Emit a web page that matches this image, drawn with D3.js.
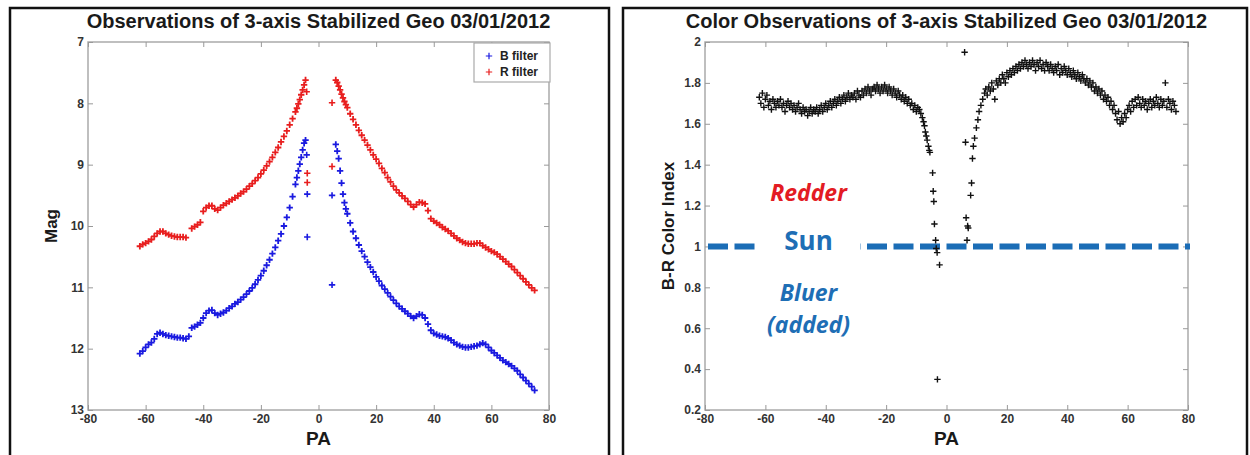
<!DOCTYPE html>
<html>
<head>
<meta charset="utf-8">
<script src="https://cdn.jsdelivr.net/npm/d3@7"></script>
<style>
body { margin: 0; background: #fff; }
svg { display: block; font-family: "Liberation Sans", Arial, sans-serif; }
</style>
</head>
<body>
<svg id="chart" width="1250" height="455"></svg>
<script>
// ---- data ----
var xTicks = [-80, -60, -40, -20, 0, 20, 40, 60, 80];
var magTicks = [7, 8, 9, 10, 11, 12, 13];
var colorTicks = [0.2, 0.4, 0.6, 0.8, 1, 1.2, 1.4, 1.6, 1.8, 2];
var titleLeft = "Observations of 3-axis Stabilized Geo 03/01/2012";
var titleRight = "Color Observations of 3-axis Stabilized Geo 03/01/2012";
var legendLabels = ["B filter", "R filter"];

// PA of the B / R magnitude measurements
var paMag = [-62,-61,-60,-59,-58,-57,-56,-55,-54,-53,
  -52,-51,-50,-49,-48,-47,-46,-45,-44,-43,
  -42,-41,-40,-39,-38,-37,-36,-35,-34,-33,
  -32,-31,-30,-29,-28,-27,-26,-25,-24,-23,
  -22,-21,-20,-19,-18,-17,-16,-15,-14,-13,
  -12,-11,-10,-9,-8,-7.5,-7,-6.5,-6,-5.5,-5,-4.5,
  6,6.5,7,7.5,8,8.5,9,9.5,10,11,12,13,14,15,
  16,17,18,19,20,21,22,23,24,25,
  26,27,28,29,30,31,32,33,34,35,
  36,37,38,39,40,41,42,43,44,45,
  46,47,48,49,50,51,52,53,54,55,
  56,57,58,59,60,61,62,63,64,65,
  66,67,68,69,70,71,72,73,74,75];
var magB = [12.08,12.04,11.98,11.93,11.90,11.84,11.76,11.74,11.76,11.78,
  11.79,11.80,11.81,11.82,11.82,11.83,11.84,11.80,11.66,11.64,
  11.61,11.58,11.50,11.42,11.38,11.37,11.42,11.45,11.43,11.41,
  11.38,11.34,11.31,11.27,11.24,11.20,11.16,11.11,11.06,11.01,
  10.95,10.88,10.81,10.73,10.64,10.55,10.45,10.35,10.24,10.13,
  10.00,9.86,9.70,9.52,9.32,9.21,9.10,8.99,8.88,8.76,8.65,8.60,
  8.67,8.78,8.90,9.10,9.30,9.48,9.62,9.72,9.80,9.95,10.09,10.20,10.31,10.41,
  10.50,10.59,10.67,10.75,10.83,10.90,10.97,11.03,11.09,11.15,
  11.21,11.26,11.31,11.35,11.39,11.43,11.47,11.50,11.47,11.44,
  11.45,11.50,11.60,11.70,11.75,11.77,11.79,11.80,11.81,11.83,
  11.86,11.90,11.93,11.95,11.97,11.98,11.98,11.97,11.96,11.95,
  11.93,11.91,11.93,11.98,12.03,12.07,12.11,12.15,12.19,12.22,
  12.25,12.28,12.32,12.36,12.42,12.47,12.52,12.57,12.62,12.68];
var magR = [10.33,10.30,10.28,10.25,10.22,10.17,10.12,10.09,10.09,10.12,
  10.14,10.16,10.17,10.18,10.18,10.18,10.19,null,10.04,10.01,
  9.98,9.94,9.76,9.70,9.67,9.67,9.72,9.74,9.70,9.66,
  9.63,9.60,9.57,9.54,9.51,9.47,9.44,9.40,9.35,9.31,
  9.26,9.21,9.15,9.09,9.02,8.95,8.88,8.80,8.72,8.63,
  8.54,8.45,8.35,8.25,8.14,8.08,8.01,7.94,7.86,7.78,7.70,7.62,
  7.62,7.66,7.72,7.78,7.85,7.91,7.97,8.02,8.07,8.17,8.26,8.35,8.44,8.52,
  8.60,8.68,8.76,8.84,8.91,8.98,9.06,9.13,9.21,9.28,
  9.35,9.41,9.46,9.51,9.55,9.60,9.65,9.69,9.65,9.61,
  9.62,9.64,9.75,9.88,9.92,9.95,9.98,10.02,10.05,10.08,
  10.12,10.16,10.20,10.23,10.26,10.28,10.29,10.29,10.29,10.28,
  10.28,10.32,10.35,10.38,10.41,10.43,10.46,10.50,10.54,10.58,
  10.62,10.66,10.71,10.76,10.81,10.86,10.91,10.96,11.01,11.05];

// stray points near PA 0
var paOutB = [-4.1, -3.9, -3.9, 4.7, 4.7];
var outB = [8.84, 9.48, 10.18, 9.50, 10.96];
var paOutR = [-4.1, -3.9, -3.9, 4.7, 4.7];
var outR = [7.81, 9.14, 9.29, 7.99, 9.03];

// B-R color index
var paColor = [-62,-61.5,-61,-60.5,-60,-59.5,-59,-58.5,-58,-57.5,
  -57,-56.5,-56,-55.5,-55,-54.5,-54,-53.5,-53,-52.5,
  -52,-51.5,-51,-50.5,-50,-49.5,-49,-48.5,-48,-47.5,
  -47,-46.5,-46,-45.5,-45,-44.5,-44,-43.5,-43,-42.5,
  -42,-41.5,-41,-40.5,-40,-39.5,-39,-38.5,-38,-37.5,
  -37,-36.5,-36,-35.5,-35,-34.5,-34,-33.5,-33,-32.5,
  -32,-31.5,-31,-30.5,-30,-29.5,-29,-28.5,-28,-27.5,
  -27,-26.5,-26,-25.5,-25,-24.5,-24,-23.5,-23,-22.5,
  -22,-21.5,-21,-20.5,-20,-19.5,-19,-18.5,-18,-17.5,
  -17,-16.5,-16,-15.5,-15,-14.5,-14,-13.5,-13,-12.5,
  -12,-11.5,-11,-10.5,-10,-9.5,
  -9,-8.5,-8,-7.6,-7.3,-7,-6.7,-6.4,-6,-5.7,
  -5.5,-4.6,-4.4,-4.2,-4,-3.6,-3.4,-3.1,-2.3,-3,
  6,6.3,6.5,7,7.2,6.8,8,8.3,8.6,8.9,
  9.3,9.9,10.4,10.8,11.4,12,12.6,
  13,13.5,14,14.5,15,15.5,16,16.5,17,17.5,
  18,18.5,19,19.5,20,20.5,21,21.5,22,22.5,
  23,23.5,24,24.5,25,25.5,26,26.5,27,27.5,
  28,28.5,29,29.5,30,30.5,31,31.5,32,32.5,
  33,33.5,34,34.5,35,35.5,36,36.5,37,37.5,
  38,38.5,39,39.5,40,40.5,41,41.5,42,42.5,
  43,43.5,44,44.5,45,45.5,46,46.5,47,47.5,
  48,48.5,49,49.5,50,50.5,51,51.5,52,52.5,
  53,53.5,54,54.5,55,55.5,56,56.5,57,57.5,
  58,58.5,59,59.5,60,60.5,61,61.5,62,62.5,
  63,63.5,64,64.5,65,65.5,66,66.5,67,67.5,
  68,68.5,69,69.5,70,70.5,71,71.5,72,72.5,
  73,73.5,74,74.5,75,75.5,76];
var colorIdx = [1.73,1.70,1.75,1.68,1.72,1.74,1.69,1.71,1.67,1.72,
  1.70,1.68,1.71,1.69,1.72,1.68,1.70,1.66,1.69,1.71,
  1.68,1.70,1.67,1.69,1.66,1.68,1.70,1.67,1.65,1.68,
  1.66,1.67,1.64,1.66,1.68,1.65,1.67,1.66,1.68,1.65,
  1.67,1.69,1.66,1.68,1.70,1.67,1.69,1.71,1.68,1.70,
  1.72,1.69,1.71,1.73,1.70,1.72,1.74,1.71,1.73,1.75,
  1.72,1.74,1.73,1.75,1.72,1.76,1.74,1.73,1.76,1.74,
  1.77,1.75,1.78,1.76,1.74,1.77,1.78,1.76,1.79,1.77,
  1.75,1.78,1.76,1.79,1.77,1.75,1.78,1.76,1.74,1.77,
  1.75,1.73,1.76,1.74,1.72,1.74,1.71,1.73,1.70,1.72,
  1.69,1.70,1.67,1.69,1.66,1.68,
  1.67,1.65,1.63,1.61,1.59,1.56,1.54,1.52,1.49,1.47,
  1.46,1.36,1.27,1.22,1.11,1.03,0.99,0.97,0.91,0.35,
  1.95,1.51,1.14,1.10,1.09,1.03,1.25,1.31,1.43,1.49,
  1.53,1.58,1.62,1.66,1.69,1.72,1.75,
  1.77,1.74,1.78,1.76,1.80,1.77,1.72,1.81,1.79,1.82,
  1.80,1.84,1.82,1.80,1.85,1.83,1.86,1.84,1.87,1.85,
  1.88,1.86,1.89,1.87,1.90,1.88,1.91,1.89,1.87,1.90,
  1.88,1.91,1.89,1.86,1.90,1.88,1.91,1.87,1.89,1.86,
  1.90,1.88,1.86,1.89,1.87,1.85,1.88,1.86,1.89,1.84,
  1.87,1.85,1.88,1.86,1.84,1.87,1.85,1.83,1.86,1.84,
  1.82,1.85,1.83,1.81,1.84,1.82,1.80,1.82,1.79,1.81,
  1.78,1.80,1.76,1.78,1.75,1.77,1.74,1.76,1.72,1.74,
  1.71,1.73,1.69,1.71,1.67,1.69,1.65,1.62,1.66,1.60,
  1.63,1.61,1.65,1.63,1.67,1.69,1.66,1.71,1.68,1.72,
  1.69,1.73,1.70,1.68,1.72,1.69,1.71,1.67,1.70,1.72,
  1.68,1.71,1.69,1.73,1.70,1.68,1.72,1.69,1.71,1.80,
  1.68,1.72,1.70,1.67,1.71,1.69,1.66];

// annotation texts (PA, color index)
var notes = [
  {text: "Redder", pa: -45.7, v: 1.265, color: "#e31b23", italic: true, size: 23},
  {text: "Sun", pa: -45.7, v: 1.03, color: "#1e6eb5", italic: false, size: 26},
  {text: "Bluer", pa: -45.7, v: 0.775, color: "#1e6eb5", italic: true, size: 23},
  {text: "(added)", pa: -45.7, v: 0.62, color: "#1e6eb5", italic: true, size: 23}
];
var sunLevel = 1;
var sunGap = [-63.3, -28.6];   // PA range hidden behind the "Sun" label

// ---- drawing ----
var svg = d3.select("#chart");
var plus = "M-3.2,0H3.2M0,-3.2V3.2";

function framePanel(x0, x1) {   //black outline round each panel
  svg.append("rect")
    .attr("x", x0).attr("y", 8)
    .attr("width", x1 - x0).attr("height", 470)
    .attr("fill", "none")
    .attr("stroke", "#111")
    .attr("stroke-width", 2.5);
}

function drawAxes(x, y, yTicks, yLabel, title) {
  var left = x.range()[0], right = x.range()[1];
  var top = d3.min(y.range()), bottom = d3.max(y.range());

  svg.append("rect")
    .attr("x", left).attr("y", top)
    .attr("width", right - left).attr("height", bottom - top)
    .attr("fill", "none").attr("stroke", "#aaa").attr("stroke-width", 1.5);

  var styleAxis = function(g) {
    g.select(".domain").remove();
    g.selectAll(".tick line").attr("stroke", "#999");
    g.selectAll("text")
      .attr("fill", "#333")
      .attr("font-size", 12)
      .attr("font-weight", "bold")
      .attr("font-family", "'Liberation Sans', Arial, sans-serif");
  };

  svg.append("g")
    .attr("transform", "translate(0," + bottom + ")")
    .call(d3.axisBottom(x).tickValues(xTicks).tickSize(-5).tickPadding(4).tickFormat(String))
    .call(styleAxis);
  svg.append("g")
    .attr("transform", "translate(0," + top + ")")
    .call(d3.axisTop(x).tickValues(xTicks).tickSize(-5).tickFormat(""))
    .call(styleAxis);
  svg.append("g")
    .attr("transform", "translate(" + left + ",0)")
    .call(d3.axisLeft(y).tickValues(yTicks).tickSize(-5).tickPadding(4).tickFormat(String))
    .call(styleAxis);
  svg.append("g")
    .attr("transform", "translate(" + right + ",0)")
    .call(d3.axisRight(y).tickValues(yTicks).tickSize(-5).tickFormat(""))
    .call(styleAxis);

  var cx = (left + right) / 2;
  svg.append("text")   //title
    .attr("x", cx).attr("y", 28)
    .attr("text-anchor", "middle")
    .attr("font-size", 20).attr("font-weight", "bold")
    .attr("fill", "#1a1a1a")
    .text(title);
  svg.append("text")   //x label
    .attr("x", cx).attr("y", bottom + 35)
    .attr("text-anchor", "middle")
    .attr("font-size", 19).attr("font-weight", "bold")
    .attr("fill", "#1a1a1a")
    .text("PA");
  svg.append("text")   //y label
    .attr("transform", "translate(" + (left - 31) + "," + ((top + bottom) / 2) + ") rotate(-90)")
    .attr("text-anchor", "middle")
    .attr("font-size", 17).attr("font-weight", "bold")
    .attr("fill", "#1a1a1a")
    .text(yLabel);
}

function drawPoints(x, y, pa, vals, color, width) {
  var pts = pa.map(function(p, i) { return {pa: p, v: vals[i]}; })
    .filter(function(d) { return d.v != null; });
  svg.append("g").selectAll("path")
    .data(pts)
    .enter().append("path")
    .attr("d", plus)
    .attr("transform", function(d) { return "translate(" + x(d.pa) + "," + y(d.v) + ")"; })
    .attr("stroke", color)
    .attr("stroke-width", width)
    .attr("fill", "none");
}

// left panel: magnitudes
framePanel(10, 609);
var xL = d3.scaleLinear().domain([-80, 80]).range([88, 549]);
var yL = d3.scaleLinear().domain([7, 13]).range([42, 410]);
drawAxes(xL, yL, magTicks, "Mag", titleLeft);
drawPoints(xL, yL, paMag, magB, "#1a1ae0", 1.8);
drawPoints(xL, yL, paMag, magR, "#e81e1e", 1.8);
drawPoints(xL, yL, paOutB, outB, "#1a1ae0", 1.6);
drawPoints(xL, yL, paOutR, outR, "#e81e1e", 1.6);

// legend
var lg = svg.append("g").attr("transform", "translate(" + (xL(80) - 75) + "," + (yL(7) + 1) + ")");
lg.append("rect")
  .attr("width", 76).attr("height", 39)
  .attr("fill", "#fff").attr("stroke", "#aaa").attr("stroke-width", 1.2);
legendLabels.forEach(function(lab, i) {
  var cy = 13 + i * 16;
  lg.append("path")
    .attr("d", plus)
    .attr("transform", "translate(15," + cy + ")")
    .attr("stroke", i === 0 ? "#1a1ae0" : "#e81e1e")
    .attr("stroke-width", 1.2);
  lg.append("text")
    .attr("x", 26).attr("y", cy + 4)
    .attr("font-size", 12).attr("font-weight", "bold")
    .attr("fill", "#222")
    .text(lab);
});

// right panel: color index
framePanel(623, 1247);
var xR = d3.scaleLinear().domain([-80, 80]).range([705, 1188]);
var yR = d3.scaleLinear().domain([0.2, 2]).range([410, 42]);
drawAxes(xR, yR, colorTicks, "B-R Color Index", titleRight);

// dashed solar color line
svg.append("line")
  .attr("x1", xR(-80) + 3).attr("x2", xR(80) + 2)
  .attr("y1", yR(sunLevel)).attr("y2", yR(sunLevel))
  .attr("stroke", "#1b6db6")
  .attr("stroke-width", 6)
  .attr("stroke-dasharray", "20,6.5");
svg.append("rect")
  .attr("x", xR(sunGap[0])).attr("y", yR(sunLevel) - 6)
  .attr("width", xR(sunGap[1]) - xR(sunGap[0])).attr("height", 12)
  .attr("fill", "#fff");

drawPoints(xR, yR, paColor, colorIdx, "#111", 1.4);

svg.append("g").selectAll("text")
  .data(notes)
  .enter().append("text")
  .attr("x", function(d) { return xR(d.pa); })
  .attr("y", function(d) { return yR(d.v); })
  .attr("text-anchor", "middle")
  .attr("dominant-baseline", "central")
  .attr("font-family", "'Open Sans', sans-serif")
  .attr("font-weight", "bold")
  .attr("font-style", function(d) { return d.italic ? "italic" : "normal"; })
  .attr("font-size", function(d) { return d.size; })
  .attr("fill", function(d) { return d.color; })
  .text(function(d) { return d.text; });
</script>
</body>
</html>
